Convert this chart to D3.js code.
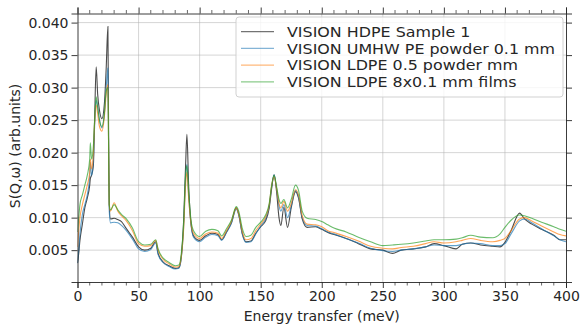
<!DOCTYPE html>
<html>
<head>
<meta charset="utf-8">
<script src="https://cdn.jsdelivr.net/npm/d3@7"></script>
<style>
  body { margin: 0; background: #fff; }
  text { font-family: "DejaVu Sans", sans-serif; fill: #262626; }
</style>
</head>
<body>
<div id="chart"></div>
<script>
// energy grid (meV) shared by all four spectra
const energy = [0, 1, 2, 4, 6, 8, 10, 10.5, 11.5, 13, 14, 15.3, 16.5, 18, 20, 22, 23.5, 24.9, 25.5, 26,
  27, 30, 33, 36, 40, 45, 50, 55, 60, 64, 66, 70, 75, 80, 83, 85, 87, 88.5, 89.6, 91,
  93, 95, 100, 105, 110, 115, 118, 122, 126, 130, 132, 135, 138, 142, 146, 150, 154, 157, 159, 161,
  163, 165, 166.5, 169, 172, 175, 178.5, 181, 184, 188, 195, 200, 205, 210, 220, 230, 240, 250, 258, 265,
  275, 285, 292, 300, 310, 315, 322, 330, 340, 346, 350, 355, 362, 366, 372, 380, 390, 395, 400];

const hdpe = [.0030, .0045, .0065, .0090, .0115, .0130, .0150, .0160, .0165, .0180, .0250, .0332, .0290, .0265, .0252, .0275, .0330, .0394, .0220, .0120,
  .0098, .0099, .0097, .0094, .0083, .0070, .0055, .0050, .0053, .0063, .0045, .0032, .0026, .0022, .0023, .0040, .0100, .0180, .0228, .0150,
  .0090, .0072, .0065, .0072, .0076, .0074, .0066, .0078, .0092, .0115, .0105, .0075, .0063, .0064, .0076, .0086, .0095, .0115, .0145, .0166,
  .0140, .0100, .0088, .0116, .0085, .0115, .0140, .0130, .0098, .0085, .0086, .0082, .0077, .0074, .0068, .0060, .0052, .0050, .0045, .0050,
  .0052, .0055, .0060, .0057, .0052, .0059, .0061, .0058, .0056, .0055, .0062, .0080, .0107, .0098, .0090, .0082, .0073, .0066, .0066];

const umhw = [.0030, .0050, .0075, .0105, .0120, .0135, .0165, .0185, .0165, .0190, .0240, .0280, .0270, .0250, .0238, .0260, .0300, .0330, .0200, .0110,
  .0092, .0093, .0092, .0088, .0080, .0067, .0052, .0048, .0051, .0061, .0043, .0031, .0025, .0021, .0022, .0038, .0090, .0160, .0182, .0135,
  .0088, .0070, .0063, .0070, .0074, .0072, .0065, .0077, .0091, .0113, .0104, .0074, .0062, .0063, .0075, .0087, .0098, .0118, .0148, .0166,
  .0145, .0118, .0110, .0120, .0100, .0118, .0142, .0132, .0100, .0088, .0087, .0083, .0078, .0075, .0068, .0061, .0053, .0049, .0048, .0050,
  .0052, .0055, .0058, .0057, .0057, .0059, .0061, .0060, .0057, .0057, .0060, .0075, .0095, .0098, .0092, .0083, .0072, .0066, .0063];

const ldpePowder = [.0055, .0080, .0100, .0120, .0135, .0150, .0170, .0190, .0175, .0200, .0245, .0273, .0260, .0240, .0233, .0255, .0290, .0305, .0200, .0120,
  .0110, .0123, .0110, .0103, .0095, .0080, .0060, .0056, .0057, .0065, .0050, .0036, .0029, .0024, .0025, .0040, .0085, .0150, .0170, .0130,
  .0090, .0076, .0068, .0075, .0078, .0076, .0068, .0080, .0094, .0115, .0106, .0078, .0066, .0068, .0080, .0090, .0101, .0120, .0150, .0163,
  .0145, .0122, .0115, .0125, .0110, .0122, .0143, .0135, .0103, .0090, .0089, .0086, .0080, .0077, .0071, .0064, .0056, .0053, .0052, .0054,
  .0056, .0060, .0063, .0061, .0063, .0065, .0068, .0065, .0063, .0065, .0068, .0080, .0098, .0100, .0095, .0087, .0078, .0074, .0072];

const ldpeFilms = [.0078, .0100, .0120, .0135, .0150, .0165, .0190, .0215, .0190, .0210, .0250, .0286, .0270, .0250, .0240, .0260, .0295, .0300, .0200, .0120,
  .0112, .0120, .0112, .0105, .0098, .0084, .0063, .0058, .0059, .0066, .0052, .0038, .0031, .0026, .0027, .0045, .0095, .0165, .0180, .0140,
  .0095, .0080, .0071, .0079, .0082, .0080, .0072, .0083, .0096, .0117, .0110, .0083, .0071, .0073, .0085, .0093, .0104, .0122, .0150, .0165,
  .0148, .0128, .0122, .0128, .0115, .0128, .0150, .0142, .0110, .0099, .0097, .0094, .0089, .0084, .0078, .0070, .0063, .0057, .0058, .0059,
  .0061, .0064, .0066, .0066, .0067, .0069, .0073, .0070, .0069, .0075, .0085, .0096, .0104, .0103, .0099, .0093, .0086, .0082, .0079];

const seriesNames = ["VISION HDPE Sample 1", "VISION UMHW PE powder 0.1 mm",
  "VISION LDPE 0.5 powder mm", "VISION LDPE 8x0.1 mm films"];
const seriesColors = ["#000000", "#1f77b4", "#ff7f0e", "#2ca02c"];
const xTicks = [0, 50, 100, 150, 200, 250, 300, 350, 400];
const yTicks = [0.005, 0.010, 0.015, 0.020, 0.025, 0.030, 0.035, 0.040];

function createSpectrumChart() {
    const totalWidth = 581, totalHeight = 324;
    const margin = { top: 13.5, right: 15, bottom: 42, left: 77.5 };
    const width = totalWidth - margin.left - margin.right;
    const height = totalHeight - margin.top - margin.bottom;

    const svg = d3.select("#chart").append("svg")
        .attr("width", totalWidth)
        .attr("height", totalHeight);

    const g = svg.append("g")
        .attr("transform", `translate(${margin.left}, ${margin.top})`);

    const x = d3.scaleLinear().domain([0, 400]).range([0, width]);
    const y = d3.scaleLinear().domain([0.0001, 0.0414]).range([height, 0]);

    // grid
    g.append("g").selectAll("line").data(xTicks.slice(1, -1)).enter().append("line")
        .attr("x1", d => x(d)).attr("x2", d => x(d))
        .attr("y1", 0).attr("y2", height)
        .attr("stroke", "#b0b0b0").attr("stroke-opacity", 0.6).attr("stroke-width", 0.9);
    g.append("g").selectAll("line").data(yTicks).enter().append("line")
        .attr("x1", 0).attr("x2", width)
        .attr("y1", d => y(d)).attr("y2", d => y(d))
        .attr("stroke", "#b0b0b0").attr("stroke-opacity", 0.6).attr("stroke-width", 0.9);

    // spectra
    const allSeries = [hdpe, umhw, ldpePowder, ldpeFilms];
    const line = d3.line()
        .x((d, i) => x(energy[i]))
        .y(d => y(d))
        .curve(d3.curveMonotoneX);

    g.append("defs").append("clipPath").attr("id", "plot-clip")
        .append("rect").attr("width", width).attr("height", height);

    g.append("g").attr("clip-path", "url(#plot-clip)")
        .selectAll("path").data(allSeries).enter().append("path")
        .attr("d", line)
        .attr("fill", "none")
        .attr("stroke", (d, i) => seriesColors[i])
        .attr("stroke-opacity", 0.7)
        .attr("stroke-width", 1.1);

    // axes (ticks outward on all four sides)
    const minorX = d3.range(0, 401, 10).filter(v => v % 50 !== 0);

    const bottomAxis = g.append("g").attr("transform", `translate(0, ${height})`)
        .call(d3.axisBottom(x).tickValues(xTicks).tickSize(6).tickPadding(3).tickFormat(d3.format("d")));
    bottomAxis.append("g").selectAll("line").data(minorX).enter().append("line")
        .attr("x1", d => x(d)).attr("x2", d => x(d)).attr("y1", 0).attr("y2", 3.5)
        .attr("stroke", "#262626").attr("stroke-width", 0.7);

    const topAxis = g.append("g")
        .call(d3.axisTop(x).tickValues(xTicks).tickSize(6).tickFormat(""));
    topAxis.append("g").selectAll("line").data(minorX).enter().append("line")
        .attr("x1", d => x(d)).attr("x2", d => x(d)).attr("y1", 0).attr("y2", -3.5)
        .attr("stroke", "#262626").attr("stroke-width", 0.7);

    g.append("g")
        .call(d3.axisLeft(y).tickValues(yTicks).tickSize(6).tickPadding(3).tickFormat(d3.format(".3f")));

    g.append("g").attr("transform", `translate(${width}, 0)`)
        .call(d3.axisRight(y).tickValues(yTicks).tickSize(6).tickFormat(""));

    g.selectAll(".domain").attr("stroke", "#262626").attr("stroke-width", 0.9);
    g.selectAll(".tick line").attr("stroke", "#262626").attr("stroke-width", 0.9);
    g.selectAll(".tick text")
        .style("font-family", "DejaVu Sans")
        .style("font-size", "14px")
        .attr("fill", "#262626");

    // axis titles
    svg.append("text")
        .attr("x", margin.left + width / 2)
        .attr("y", 320.5)
        .attr("text-anchor", "middle")
        .style("font-size", "14px")
        .text("Energy transfer (meV)");

    svg.append("text")
        .attr("transform", "rotate(-90)")
        .attr("x", -146)
        .attr("y", 20)
        .attr("text-anchor", "middle")
        .style("font-size", "14px")
        .text("S(Q,ω) (arb.units)");

    // legend
    const legend = svg.append("g").attr("transform", "translate(236, 17)");
    legend.append("rect")
        .attr("width", 327).attr("height", 80)
        .attr("rx", 3)
        .attr("fill", "#fff").attr("fill-opacity", 0.8)
        .attr("stroke", "#cccccc").attr("stroke-width", 0.9);

    const rows = legend.selectAll(".legend-row").data(seriesNames).enter().append("g")
        .attr("class", "legend-row")
        .attr("transform", (d, i) => `translate(0, ${14.7 + i * 16.7})`);
    rows.append("line")
        .attr("x1", 5).attr("x2", 38)
        .attr("stroke", (d, i) => seriesColors[i])
        .attr("stroke-opacity", 0.55)
        .attr("stroke-width", 1.3);
    // legend text is a little wider than tall in the source picture
    rows.append("text")
        .attr("transform", "translate(51, 0) scale(1.12, 1)")
        .attr("dy", "0.36em")
        .style("font-size", "14.2px")
        .text(d => d);
}

createSpectrumChart();
</script>
</body>
</html>
